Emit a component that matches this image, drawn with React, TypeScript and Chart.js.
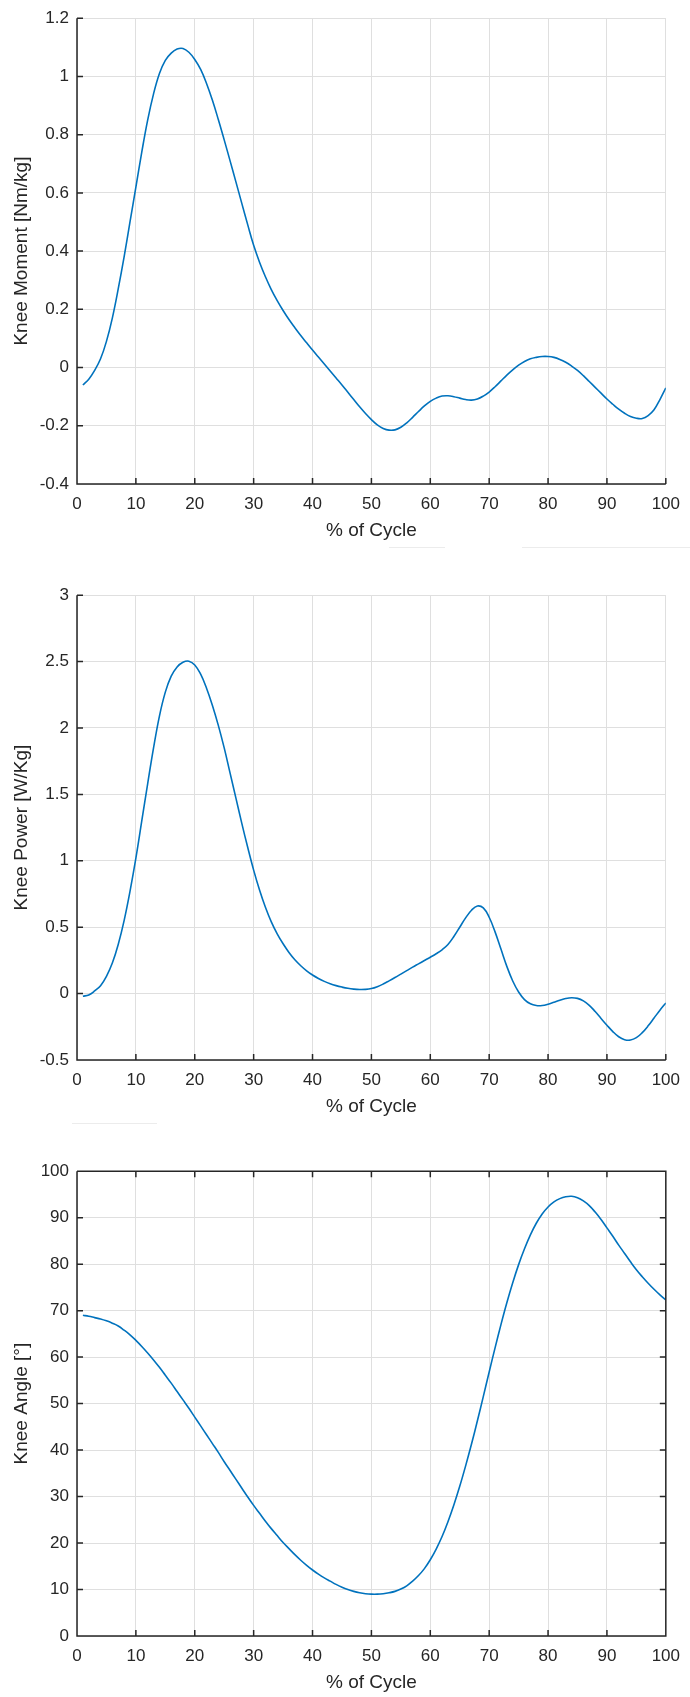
import React, { useEffect, useRef } from 'react';
import { Chart, registerables } from 'chart.js';

Chart.register(...registerables);

// ---------- data ----------
const percentCycle = [
  1, 2, 3, 4, 5, 6, 7, 8, 9, 10, 11, 12, 13, 14, 15, 16, 17, 18, 19, 20,
  21, 22, 23, 24, 25, 26, 27, 28, 29, 30, 31, 32, 33, 34, 35, 36, 37, 38, 39, 40,
  41, 42, 43, 44, 45, 46, 47, 48, 49, 50, 51, 52, 53, 54, 55, 56, 57, 58, 59, 60,
  61, 62, 63, 64, 65, 66, 67, 68, 69, 70, 71, 72, 73, 74, 75, 76, 77, 78, 79, 80,
  81, 82, 83, 84, 85, 86, 87, 88, 89, 90, 91, 92, 93, 94, 95, 96, 97, 98, 99, 100,
];

const xTicks = [0, 10, 20, 30, 40, 50, 60, 70, 80, 90, 100];

const kneeMoment = [
  -0.06, -0.04, -0.01, 0.03, 0.09, 0.17, 0.27, 0.38, 0.5, 0.62,
  0.74, 0.85, 0.94, 1.01, 1.055, 1.08, 1.094, 1.096, 1.083, 1.058,
  1.024, 0.976, 0.918, 0.852, 0.782, 0.71, 0.637, 0.563, 0.49, 0.42,
  0.362, 0.312, 0.268, 0.23, 0.196, 0.165, 0.137, 0.11, 0.085, 0.06,
  0.036, 0.012, -0.012, -0.036, -0.06, -0.085, -0.11, -0.135, -0.158, -0.179,
  -0.197, -0.209, -0.215, -0.214, -0.205, -0.19, -0.171, -0.151, -0.132, -0.116,
  -0.105, -0.098, -0.097, -0.1, -0.105, -0.11, -0.112, -0.108, -0.098, -0.084,
  -0.066, -0.046, -0.026, -0.008, 0.008, 0.021, 0.03, 0.035, 0.038, 0.038,
  0.035, 0.028, 0.018, 0.005, -0.01, -0.028, -0.048, -0.068, -0.088, -0.108,
  -0.126, -0.143, -0.157, -0.168, -0.174, -0.175, -0.165, -0.145, -0.11, -0.07,
];
const momentTicks = [-0.4, -0.2, 0, 0.2, 0.4, 0.6, 0.8, 1, 1.2];

const kneePower = [
  -0.02, -0.01, 0.02, 0.06, 0.13, 0.23, 0.37, 0.55, 0.77, 1.02,
  1.3, 1.58, 1.85, 2.09, 2.27, 2.39, 2.46, 2.495, 2.503, 2.475,
  2.405, 2.3, 2.17, 2.02, 1.85, 1.66, 1.47, 1.28, 1.1, 0.93,
  0.78, 0.65, 0.54, 0.45, 0.375, 0.31, 0.255, 0.21, 0.172, 0.14,
  0.114, 0.092, 0.074, 0.06, 0.049, 0.04, 0.034, 0.031, 0.032, 0.038,
  0.052, 0.072, 0.096, 0.121, 0.147, 0.173, 0.199, 0.224, 0.249, 0.274,
  0.3, 0.33, 0.37, 0.43, 0.5, 0.57, 0.628, 0.66, 0.645, 0.575,
  0.465, 0.335, 0.205, 0.095, 0.012, -0.045, -0.077, -0.09, -0.09, -0.08,
  -0.065, -0.05, -0.037, -0.031, -0.036, -0.055, -0.088, -0.135, -0.187, -0.238,
  -0.286, -0.325, -0.347, -0.35, -0.332, -0.294, -0.243, -0.184, -0.125, -0.07,
];
const powerTicks = [-0.5, 0, 0.5, 1, 1.5, 2, 2.5, 3];

const kneeAngle = [
  69, 68.8, 68.5, 68.2, 67.8, 67.3, 66.7, 65.8, 64.8, 63.6,
  62.3, 60.9, 59.4, 57.8, 56.1, 54.4, 52.6, 50.8, 49.0, 47.1,
  45.2, 43.3, 41.4, 39.5, 37.5, 35.6, 33.7, 31.8, 29.9, 28.1,
  26.4, 24.7, 23.1, 21.6, 20.1, 18.8, 17.5, 16.3, 15.2, 14.2,
  13.3, 12.5, 11.8, 11.1, 10.5, 10.0, 9.6, 9.3, 9.1, 9.0,
  9.0, 9.1, 9.3, 9.6, 10.1, 10.8, 11.8, 13.0, 14.5, 16.4,
  18.7, 21.4, 24.6, 28.2, 32.2, 36.6, 41.3, 46.3, 51.5, 56.8,
  62.0, 67.0, 71.7, 76.0, 79.9, 83.3, 86.3, 88.8, 90.8, 92.3,
  93.4, 94.1, 94.5, 94.6, 94.3, 93.6, 92.6, 91.2, 89.6, 87.8,
  86.0, 84.1, 82.3, 80.5, 78.8, 77.3, 75.9, 74.6, 73.4, 72.3,
];
const angleTicks = [0, 10, 20, 30, 40, 50, 60, 70, 80, 90, 100];

// ---------- styles ----------
const FONT = '"Liberation Sans", Arial, Helvetica, sans-serif';
const AXIS = '#262626';
const GRID = '#dfdfdf';
const LINE = '#0072BD';

function makeAxesPlugin(box: boolean) {
  return {
    id: 'matlabAxes',
    afterDatasetsDraw(chart: any) {
      const { ctx, chartArea } = chart;
      const xs = chart.scales.x;
      const ys = chart.scales.y;
      const { left, right, top, bottom } = chartArea;
      const tl = 6;
      ctx.save();
      ctx.strokeStyle = AXIS;
      ctx.lineWidth = 1.5;
      ctx.beginPath();
      ctx.moveTo(left, top);
      ctx.lineTo(left, bottom);
      ctx.lineTo(right, bottom);
      if (box) {
        ctx.lineTo(right, top);
        ctx.lineTo(left, top);
      }
      xs.ticks.forEach((t: any) => {
        const px = xs.getPixelForValue(t.value);
        ctx.moveTo(px, bottom);
        ctx.lineTo(px, bottom - tl);
        if (box) {
          ctx.moveTo(px, top);
          ctx.lineTo(px, top + tl);
        }
      });
      ys.ticks.forEach((t: any) => {
        const py = ys.getPixelForValue(t.value);
        ctx.moveTo(left, py);
        ctx.lineTo(left + tl, py);
        if (box) {
          ctx.moveTo(right, py);
          ctx.lineTo(right - tl, py);
        }
      });
      ctx.stroke();
      ctx.restore();
    },
  };
}

type PanelProps = {
  top: number;
  height: number;
  padBottom: number;
  values: number[];
  yTicks: number[];
  yTitle: string;
  box: boolean;
};

function Panel({ top, height, padBottom, values, yTicks, yTitle, box }: PanelProps) {
  const ref = useRef<HTMLCanvasElement>(null);
  useEffect(() => {
    const tickFont = { family: FONT, size: 17 };
    const titleFont = { family: FONT, size: 19 };
    const chart = new Chart(ref.current as HTMLCanvasElement, {
      type: 'line',
      data: {
        datasets: [
          {
            data: percentCycle.map((x, i) => ({ x, y: values[i] })),
            borderColor: LINE,
            borderWidth: 1.6,
            pointRadius: 0,
            tension: 0.4,
            fill: false,
          },
        ],
      },
      options: {
        animation: false,
        responsive: false,
        events: [],
        layout: { padding: { top: 14, right: 19, bottom: padBottom, left: 0 } },
        plugins: { legend: { display: false }, tooltip: { enabled: false } },
        scales: {
          x: {
            type: 'linear',
            min: xTicks[0],
            max: xTicks[xTicks.length - 1],
            afterBuildTicks: (s: any) => {
              s.ticks = xTicks.map((v) => ({ value: v }));
            },
            afterFit: (s: any) => {
              s.height = 58;
            },
            grid: { color: GRID, lineWidth: 1, drawTicks: false },
            border: { display: false },
            ticks: {
              padding: 10,
              color: AXIS,
              font: tickFont,
              maxRotation: 0,
              autoSkip: false,
              callback: (v: any) => String(v),
            },
            title: {
              display: true,
              text: '% of Cycle',
              color: AXIS,
              font: titleFont,
              padding: { top: 0, bottom: 0 },
            },
          },
          y: {
            type: 'linear',
            min: yTicks[0],
            max: yTicks[yTicks.length - 1],
            afterBuildTicks: (s: any) => {
              s.ticks = yTicks.map((v) => ({ value: v }));
            },
            afterFit: (s: any) => {
              s.width = 77;
            },
            grid: { color: GRID, lineWidth: 1, drawTicks: false },
            border: { display: false },
            ticks: {
              padding: 8,
              color: AXIS,
              font: tickFont,
              autoSkip: false,
              callback: (v: any) => String(v),
            },
            title: {
              display: true,
              text: yTitle,
              color: AXIS,
              font: titleFont,
              padding: { top: 10, bottom: 0 },
            },
          },
        },
      } as any,
      plugins: [makeAxesPlugin(box)],
    });
    return () => chart.destroy();
  }, []);
  return (
    <canvas
      ref={ref}
      width={690}
      height={height}
      style={{ position: 'absolute', left: 0, top, width: 690, height, display: 'block' }}
    />
  );
}

function Faint({ x, y, w }: { x: number; y: number; w: number }) {
  return (
    <div
      style={{ position: 'absolute', left: x, top: y, width: w, height: 1, background: '#ececec' }}
    />
  );
}

export default function App() {
  return (
    <div
      style={{
        position: 'absolute',
        left: 0,
        top: 0,
        width: 690,
        height: 1697,
        overflow: 'hidden',
        background: '#ffffff',
      }}
    >
      <Panel top={0} height={550} padBottom={8} values={kneeMoment} yTicks={momentTicks} yTitle="Knee Moment [Nm/kg]" box={false} />
      <Panel top={577} height={549} padBottom={8} values={kneePower} yTicks={powerTicks} yTitle="Knee Power [W/Kg]" box={false} />
      <Panel top={1153} height={544} padBottom={3} values={kneeAngle} yTicks={angleTicks} yTitle="Knee Angle [°]" box={true} />
      <Faint x={389} y={547} w={56} />
      <Faint x={522} y={547} w={168} />
      <Faint x={72} y={1123} w={85} />
    </div>
  );
}
